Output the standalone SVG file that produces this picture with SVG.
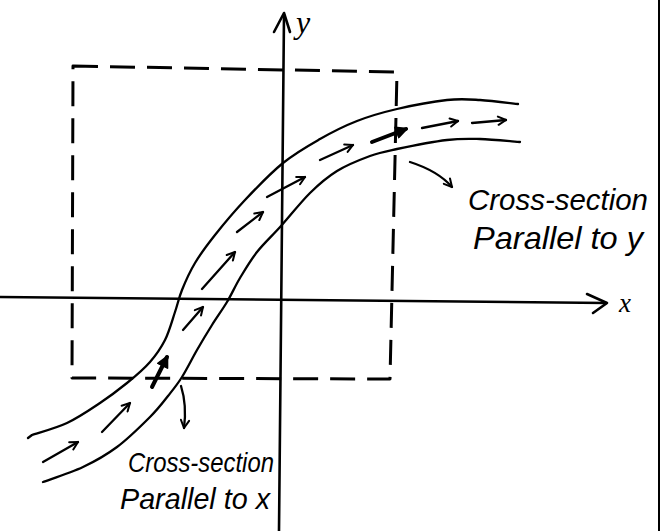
<svg xmlns="http://www.w3.org/2000/svg" width="661" height="531" viewBox="0 0 661 531">
  <style>
    .ln { fill: none; stroke: #000; stroke-linecap: round; stroke-linejoin: round; }
    .axis { stroke-width: 2.6; }
    .tube { stroke-width: 2.3; }
    .dash { stroke-width: 3; stroke-dasharray: 25 12; stroke-linecap: butt; }
    .flow { stroke-width: 2.3; }
    .bold { stroke-width: 4; }
    .lbl { font-family: "Liberation Sans", "DejaVu Sans", sans-serif; font-style: italic; fill: #000; }
    .var { font-family: "Liberation Serif", "DejaVu Serif", serif; font-style: italic; fill: #000; }
  </style>
  <defs>
    <marker id="ah" viewBox="0 0 12 12" refX="10.5" refY="6" markerWidth="11" markerHeight="11" markerUnits="userSpaceOnUse" orient="auto">
      <path d="M2,1.5 L10.5,6 L2,10.5" fill="none" stroke="#000" stroke-width="2.2" stroke-linecap="round" stroke-linejoin="round"/>
    </marker>
    <marker id="ahb" viewBox="0 0 12 12" refX="10" refY="6" markerWidth="13" markerHeight="13" markerUnits="userSpaceOnUse" orient="auto">
      <path d="M1,1 L11,6 L1,11 Z" fill="#000" stroke="#000" stroke-width="1.5" stroke-linejoin="round"/>
    </marker>
  </defs>
  <rect x="0" y="0" width="661" height="531" fill="#fff"/>

  <g id="frame-edge">
    <path class="ln" d="M659,0 L659,531" stroke-width="2"/>
  </g>

  <g id="axes">
    <path class="ln axis" d="M0,297 L606,303"/>
    <path class="ln axis" d="M587,294 L607,303 L593,313"/>
    <path class="ln axis" d="M279,531 L284,15"/>
    <path class="ln axis" d="M274,32 L284,13 L290,32"/>
    <text class="var" x="296" y="33" font-size="32">y</text>
    <text class="var" x="619" y="312" font-size="27">x</text>
  </g>

  <g id="region">
    <path class="ln dash" d="M73,66 L397,72 L390,379 L72,378 Z"/>
  </g>

  <g id="tube">
    <path class="ln tube" d="M28,438 L32,435 C37.8,433 55.7,428.3 67,423 C78.3,417.7 90,409.7 100,403 C110,396.3 118.7,389.7 127,383 C135.3,376.3 143.7,369.2 150,362 C156.3,354.8 160.8,348.3 165,340 C169.2,331.7 172.2,320.3 175,312 C177.8,303.7 178.7,298.2 182,290 C185.3,281.8 189.5,272.2 195,263 C200.5,253.8 206.7,245.5 215,235 C223.3,224.5 233.7,212 245,200 C256.3,188 270.5,173.2 283,163 C295.5,152.8 307.7,146 320,139 C332.3,132 344.2,126 357,121 C369.8,116 382,112.5 397,109 C412,105.5 433.2,101.5 447,100 C460.8,98.5 468.2,99.3 480,100 C491.8,100.7 511.7,103.3 518,104"/>
    <path class="ln tube" d="M43,482 C49.7,479.5 70.7,472.8 83,467 C95.3,461.2 105.8,455.3 117,447 C128.2,438.7 141.5,425.5 150,417 C158.5,408.5 162.7,402.7 168,396 C173.3,389.3 177.2,384.7 182,377 C186.8,369.3 192,358.7 197,350 C202,341.3 207,333 212,325 C217,317 222.3,309.8 227,302 C231.7,294.2 235,286.3 240,278 C245,269.7 250.2,260.7 257,252 C263.8,243.3 272.2,235.8 281,226 C289.8,216.2 300.7,202.2 310,193 C319.3,183.8 327,177.2 337,171 C347,164.8 360,159.7 370,156 C380,152.3 384.2,151.7 397,149 C409.8,146.3 433.2,141.7 447,140 C460.8,138.3 467.8,138.7 480,139 C492.2,139.3 513.3,141.5 520,142"/>
  </g>

  <g id="connectors">
    <path class="ln flow" d="M43,462 L78,442" marker-end="url(#ah)"/>
    <path class="ln flow" d="M102,432 L130,403" marker-end="url(#ah)"/>
    <path class="ln bold" d="M152,387 L167,357" marker-end="url(#ahb)"/>
    <path class="ln flow" d="M183,330 L203,307" marker-end="url(#ah)"/>
    <path class="ln flow" d="M202,289 L235,252" marker-end="url(#ah)"/>
    <path class="ln flow" d="M237,232 L263,212" marker-end="url(#ah)"/>
    <path class="ln flow" d="M267,197 L305,177" marker-end="url(#ah)"/>
    <path class="ln flow" d="M320,160 L353,145" marker-end="url(#ah)"/>
    <path class="ln bold" d="M372,142 L406,129" marker-end="url(#ahb)"/>
    <path class="ln flow" d="M422,128 L458,121" marker-end="url(#ah)"/>
    <path class="ln flow" d="M472,123 L506,120" marker-end="url(#ah)"/>
    <path class="ln flow" d="M410,162 Q438,171 452,187" marker-end="url(#ah)"/>
    <path class="ln flow" d="M181,386 Q187,405 184,428" marker-end="url(#ah)"/>
  </g>

  <g id="label-y-section">
    <text class="lbl" x="468" y="210" font-size="29.5" textLength="180" lengthAdjust="spacingAndGlyphs">Cross-section</text>
    <text class="lbl" x="473" y="249" font-size="32" textLength="170" lengthAdjust="spacingAndGlyphs">Parallel to y</text>
  </g>

  <g id="label-x-section">
    <text class="lbl" x="128" y="472" font-size="28" textLength="146" lengthAdjust="spacingAndGlyphs">Cross-section</text>
    <text class="lbl" x="120" y="509" font-size="30" textLength="150" lengthAdjust="spacingAndGlyphs">Parallel to x</text>
  </g>
</svg>
